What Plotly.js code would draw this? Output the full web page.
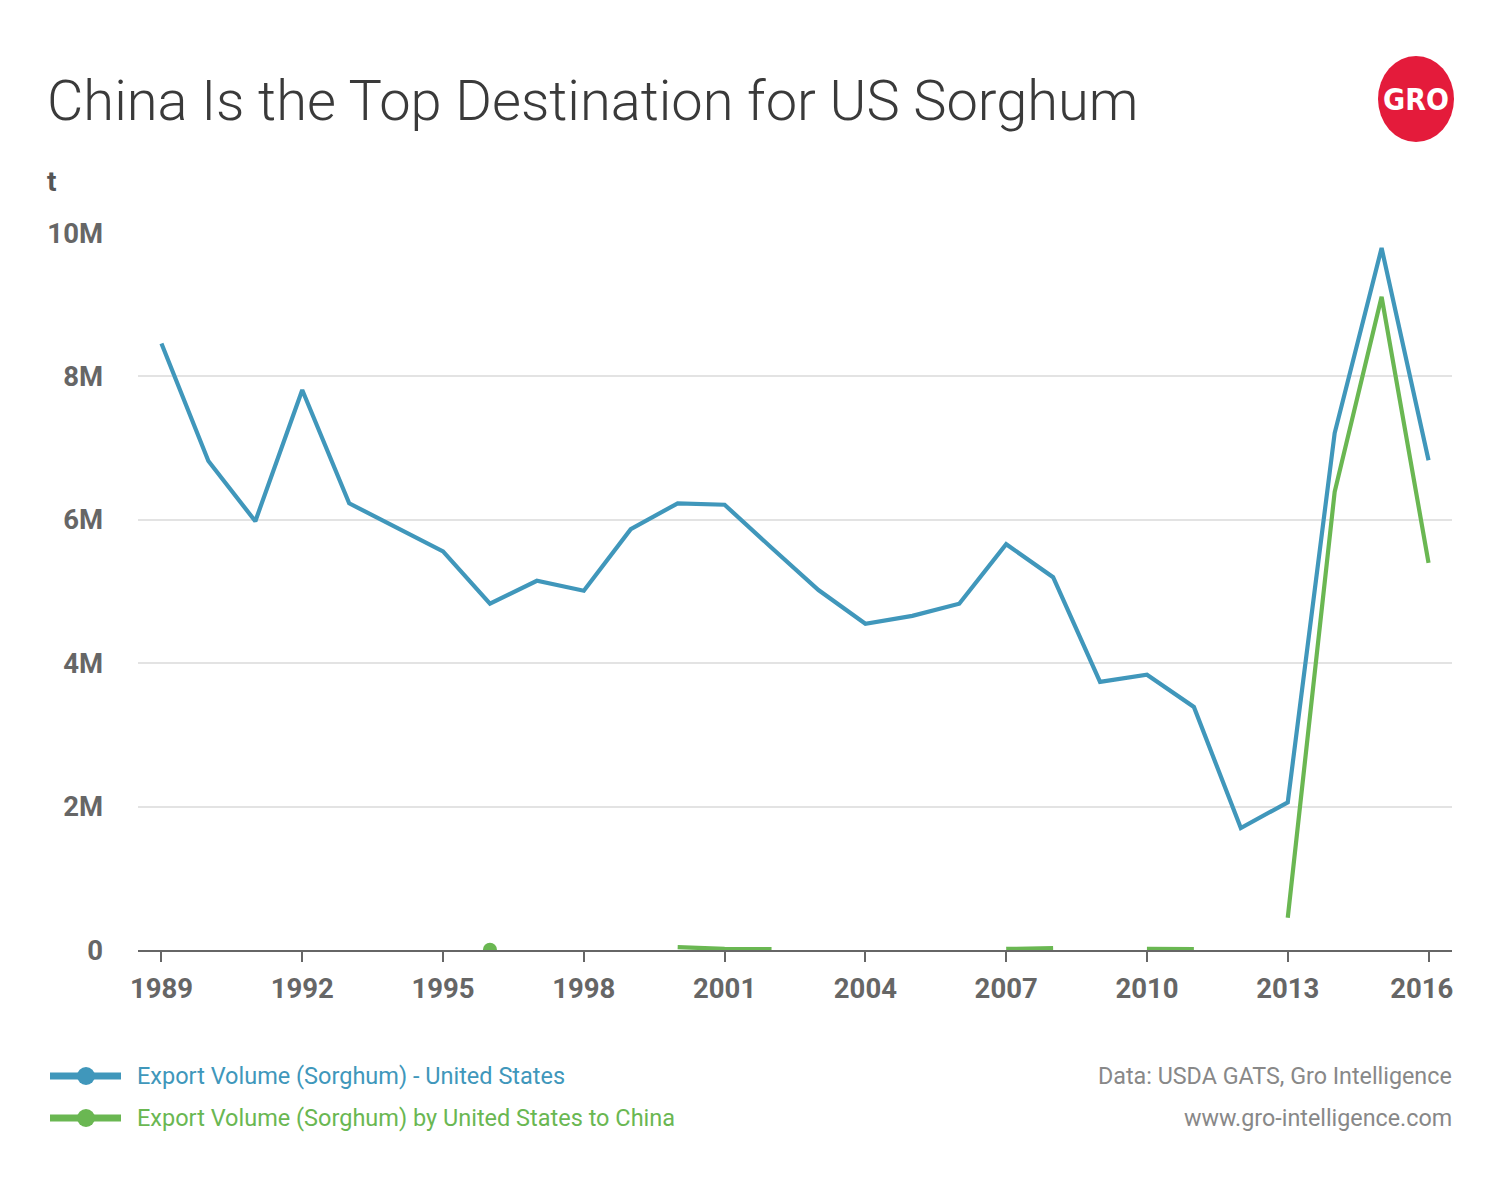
<!DOCTYPE html>
<html>
<head>
<meta charset="utf-8">
<script src="https://cdn.plot.ly/plotly-3.0.1.min.js"></script>
<style>
html,body{margin:0;padding:0;background:#fff;}
#chart{width:1500px;height:1189px;}
</style>
</head>
<body>
<div id="chart"></div>
<script>
// ---- data ----
const years = [1989,1990,1991,1992,1993,1994,1995,1996,1997,1998,1999,2000,2001,2002,2003,2004,2005,2006,2007,2008,2009,2010,2011,2012,2013,2014,2015,2016];
const usExports = [8.46e6,6.82e6,5.98e6,7.81e6,6.23e6,5.89e6,5.56e6,4.83e6,5.15e6,5.01e6,5.87e6,6.23e6,6.21e6,5.61e6,5.02e6,4.55e6,4.66e6,4.83e6,5.66e6,5.20e6,3.74e6,3.84e6,3.39e6,1.70e6,2.06e6,7.21e6,9.79e6,6.83e6];
const toChina = [null,null,null,null,null,null,null,5000,null,null,null,40000,15000,12000,null,null,null,null,15000,25000,null,15000,12000,null,0.45e6,6.39e6,9.11e6,5.40e6];
const yTickVals = [0,2e6,4e6,6e6,8e6,10e6];
const yTickText = ['0','2M','4M','6M','8M','10M'];
const xTickVals = [1989,1992,1995,1998,2001,2004,2007,2010,2013,2016];
const xTickText = ['1989','1992','1995','1998','2001','2004','2007','2010','2013','2016'];
const seriesNames = ['Export Volume (Sorghum) - United States','Export Volume (Sorghum) by United States to China'];
const titleText = 'China Is the Top Destination for US Sorghum';
const unitLabel = 't';
const sourceLines = ['Data: USDA GATS, Gro Intelligence','www.gro-intelligence.com'];

// ---- style ----
const BLUE = '#4097bb';
const GREEN = '#6ab752';
const FONT = 'Roboto, "Open Sans", sans-serif';

// layout geometry (px)
const L = 138, R = 48, T = 233, B = 239;
const W = 1500, H = 1189;
const PW = W - L - R, PH = H - T - B;
const px = x => (x - L) / PW;           // page x -> paper x
const py = y => (H - B - y) / PH;       // page y -> paper y

const chinaMarkerSize = toChina.map((v, i) => {
  const prev = i > 0 ? toChina[i-1] : null;
  const next = i < toChina.length - 1 ? toChina[i+1] : null;
  return (v !== null && prev === null && next === null) ? 14 : 0;
});

// keep the last x label inside the plot edge (as in the original)
const xTickLabels = xTickText.map((t, i) => i === xTickText.length - 1 ? t + '\u00a0\u00a0' : t);

const traces = [
  {x: years, y: usExports, name: seriesNames[0], type: 'scatter', mode: 'lines',
   line: {color: BLUE, width: 4.2}, connectgaps: false, hoverinfo: 'x+y'},
  {x: years, y: toChina, name: seriesNames[1], type: 'scatter', mode: 'lines+markers',
   line: {color: GREEN, width: 4.2}, marker: {color: GREEN, size: chinaMarkerSize, opacity: 1, line: {width: 0}},
   connectgaps: false, hoverinfo: 'x+y'}
];

const shapes = [];
const annotations = [];
// manual legend
const legendRows = [1076, 1118];
[BLUE, GREEN].forEach((c, i) => {
  const y = py(legendRows[i]);
  shapes.push({type: 'line', xref: 'paper', yref: 'paper', x0: px(50), x1: px(121), y0: y, y1: y,
    line: {color: c, width: 7}});
  shapes.push({type: 'circle', xref: 'paper', yref: 'paper', xsizemode: 'pixel', ysizemode: 'pixel',
    xanchor: px(86), yanchor: y, x0: -9, x1: 9, y0: -9, y1: 9, fillcolor: c, line: {width: 0}});
  annotations.push({xref: 'paper', yref: 'paper', x: px(135), y: y, xanchor: 'left', yanchor: 'middle',
    text: seriesNames[i], showarrow: false, font: {family: FONT, size: 23.5, color: c}});
});
// source
sourceLines.forEach((s, i) => {
  annotations.push({xref: 'paper', yref: 'paper', x: px(1454), y: py(legendRows[i]), xanchor: 'right', yanchor: 'middle',
    text: s, showarrow: false, font: {family: FONT, size: 23.3, color: '#888888'}});
});
// unit label
annotations.push({xref: 'paper', yref: 'paper', x: px(45), y: py(181), xanchor: 'left', yanchor: 'middle',
  text: unitLabel, showarrow: false, font: {family: FONT, size: 28, color: '#555555', weight: 700}});
// logo
shapes.push({type: 'circle', xref: 'paper', yref: 'paper', xsizemode: 'pixel', ysizemode: 'pixel',
  xanchor: px(1416), yanchor: py(99), x0: -38, x1: 38, y0: -43, y1: 43, fillcolor: '#e41b3b', line: {width: 0}});
annotations.push({xref: 'paper', yref: 'paper', x: px(1416), y: py(100), xanchor: 'center', yanchor: 'middle',
  text: 'GRO', showarrow: false, font: {family: '"DejaVu Sans Condensed", "Liberation Sans Narrow", sans-serif', size: 30, color: '#ffffff', weight: 700}});

const layout = {
  width: W, height: H,
  margin: {l: L, r: R, t: T, b: B, pad: 0},
  paper_bgcolor: '#ffffff', plot_bgcolor: '#ffffff',
  showlegend: false,
  title: {text: titleText, xref: 'container', yref: 'container', x: 47 / W, xanchor: 'left',
    y: 1 - 100 / H, yanchor: 'middle', font: {family: FONT, size: 56, color: '#3a3a3a', weight: 300}},
  xaxis: {
    range: [1988.5, 2016.5], tickvals: xTickVals, ticktext: xTickLabels,
    showgrid: false, zeroline: false, showline: true, linecolor: '#666666', linewidth: 2,
    ticks: 'outside', ticklen: 10, tickwidth: 2, tickcolor: '#666666', layer: 'below traces',
    tickfont: {family: FONT, size: 27.5, color: '#666666', weight: 700}, ticklabelstandoff: 3,
    fixedrange: true
  },
  yaxis: {
    range: [0, 10e6], tickvals: yTickVals, ticktext: yTickText, layer: 'below traces',
    showgrid: true, gridcolor: '#e3e3e3', gridwidth: 2, zeroline: false, showline: false,
    ticks: '', tickfont: {family: FONT, size: 27.5, color: '#666666', weight: 700}, ticklabelstandoff: 34,
    fixedrange: true
  },
  shapes: shapes,
  annotations: annotations
};

Plotly.newPlot('chart', traces, layout, {displayModeBar: false, staticPlot: true});
</script>
</body>
</html>
